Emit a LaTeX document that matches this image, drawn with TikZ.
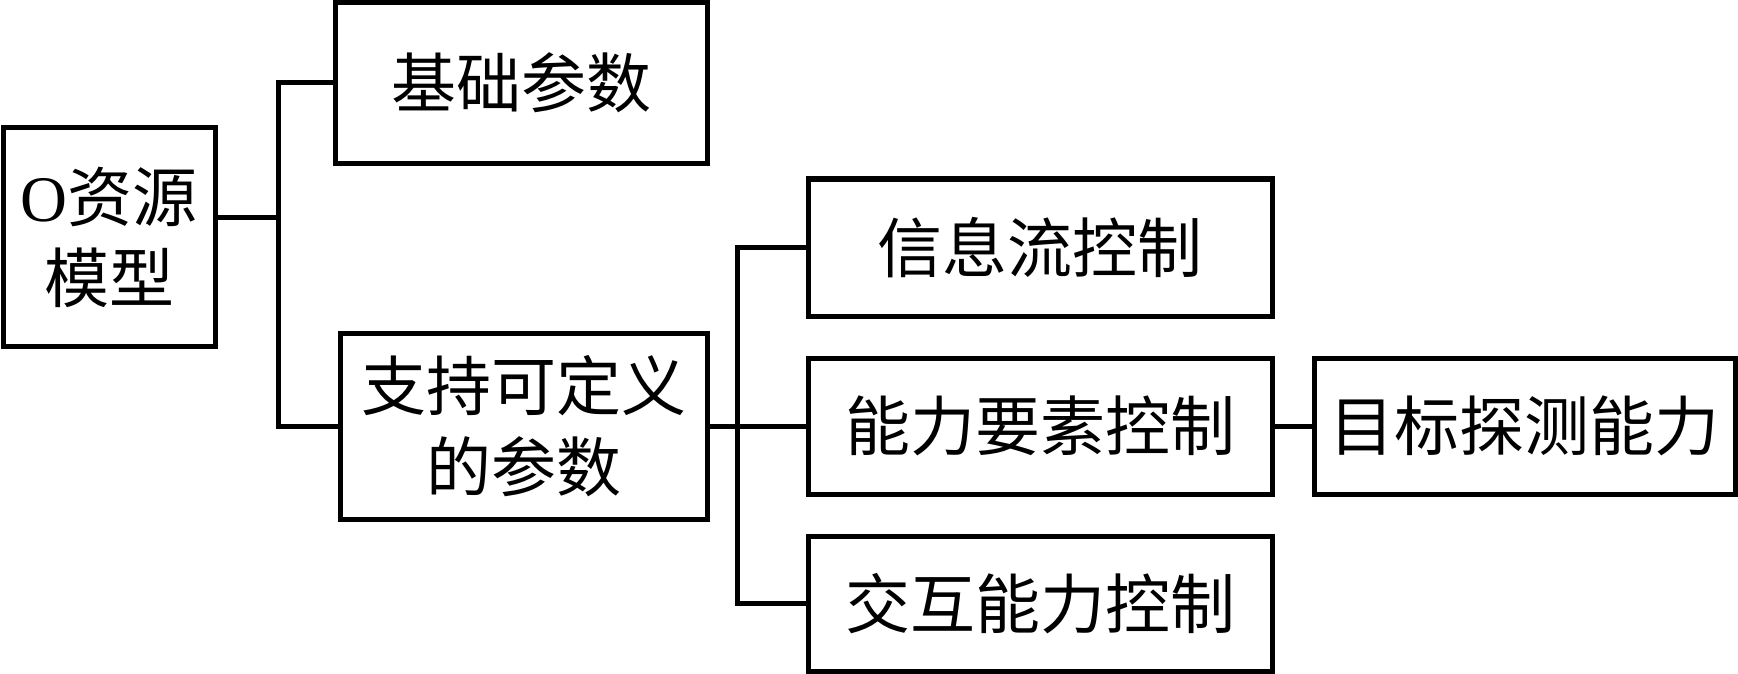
\documentclass[tikz,border=0pt]{standalone}
\usepackage{fontspec}
\setmainfont{Liberation Serif}
\newfontfamily\cjk{Noto Sans CJK SC}
\usetikzlibrary{positioning, calc}

\begin{document}
\begin{tikzpicture}[x=1pt, y=-1pt,
  box/.style={draw, line width=5pt, inner sep=0pt, align=center, font=\fontsize{65}{81}\selectfont\cjk},
  link/.style={line width=5pt},
]
  \useasboundingbox (0,0) rectangle (1738,674);

  % Root
  \node[box, minimum width=212pt, minimum height=218pt] (model) at (109, 237) {{\rmfamily O}资源\\模型};

  % First level
  \node[box, minimum width=372pt, minimum height=161pt] (basic) at (521, 83) {基础参数};
  \node[box, minimum width=367pt, minimum height=186pt] (custom) at (523.5, 426) {支持可定义\\的参数};

  % Second level
  \node[box, minimum width=464pt, minimum height=137pt] (flow) at (1040, 247.5) {信息流控制};
  \node[box, minimum width=464pt, minimum height=136pt] (elem) at (1040, 426) {能力要素控制};
  \node[box, minimum width=464pt, minimum height=135pt] (inter) at (1040, 603.5) {交互能力控制};
  \node[box, minimum width=421pt, minimum height=136pt] (detect) at (1524.5, 426) {目标探测能力};

  % Junctions
  \coordinate (j1) at (278, 217);
  \coordinate (j2) at (737, 426);

  \draw[link] (model.east |- j1) -- (j1);
  \draw[link] (basic.west) -| (j1) |- (custom.west);
  \draw[link] (custom.east) -- (elem.west);
  \draw[link] (flow.west) -| (j2) |- (inter.west);
  \draw[link] (elem.east) -- (detect.west);
\end{tikzpicture}
\end{document}
